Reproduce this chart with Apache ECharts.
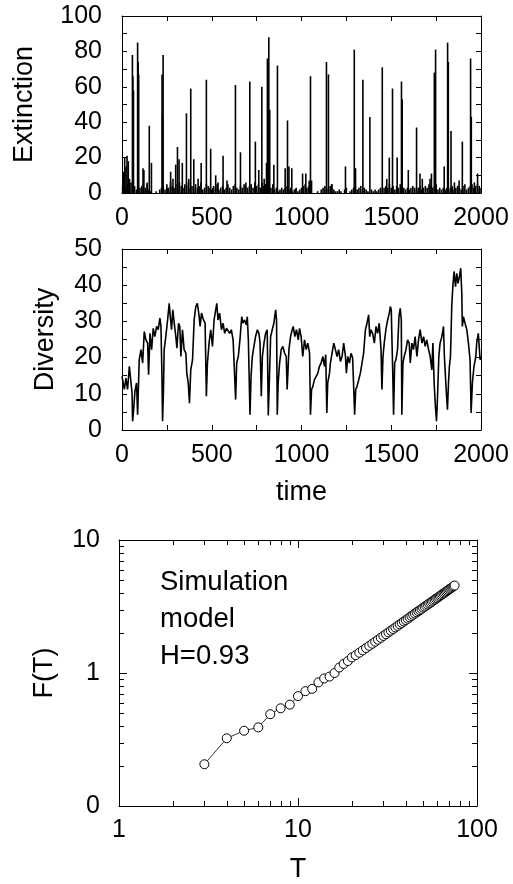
<!DOCTYPE html>
<html><head><meta charset="utf-8">
<script src="https://cdn.jsdelivr.net/npm/echarts@6/dist/echarts.min.js"></script>
<style>html,body{margin:0;padding:0;background:#fff}#c{width:513px;height:884px}</style>
</head><body><div id="c"></div>
<script>
// ---- Extinction: background level every 10 time steps ----
const extBaseline = [
4,6,3,5,2,6,3,4,2,5,3,4,2,3,5,2,1,0,0,1,
0,2,3,4,2,5,3,6,4,3,5,2,6,4,3,5,4,6,3,4,
2,5,3,4,6,2,3,5,4,3,2,4,3,5,2,3,4,2,3,5,
3,2,4,5,3,2,4,3,5,6,3,4,5,3,6,4,5,3,6,4,
5,6,4,3,5,2,3,1,2,3,2,3,4,2,3,1,2,3,1,2,
3,4,5,3,4,1,0,0,0,1,0,2,3,4,2,3,4,5,2,1,
1,2,1,0,2,3,0,1,2,3,4,2,3,4,2,3,2,1,0,2,
1,2,1,2,3,2,3,4,3,5,3,4,2,4,3,5,2,3,2,3,
2,3,4,3,2,3,4,2,3,4,3,5,4,3,4,5,2,3,2,3,
2,3,2,3,4,2,3,4,3,2,4,5,2,3,4,5,3,4,5,4,3];
const extBaseStep = 10;
// ---- Extinction events ----
const extEventT = [8,15,22,28,35,42,58,61,64,87,90,93,117,122,140,152,164,223,226,229,271,284,299,309,318,336,359,372,383,400,424,441,470,494,522,535,563,585,632,660,688,712,743,762,779,792,805,810,814,818,823,846,866,909,922,930,946,965,1006,1024,1043,1050,1056,1139,1150,1168,1245,1294,1301,1342,1381,1450,1475,1489,1507,1533,1557,1561,1595,1641,1660,1673,1716,1724,1740,1747,1795,1814,1818,1833,1852,1878,1896,1942,1946,1963,1981];
const extEventV = [12,20,15,21,18,8,78,66,58,85,74,67,14,13,6,38,17,67,44,78,12,8,16,26,19,17,45,8,59,19,8,17,64,25,10,6,21,7,61,23,4,63,29,13,60,8,17,76,36,88,47,16,72,14,41,15,14,2,11,11,7,66,7,74,67,5,15,81,14,64,43,71,8,20,59,20,63,53,13,37,11,8,8,11,68,81,15,85,74,35,6,7,29,76,43,6,11];

// ---- Diversity ----
const divT = [0,13,22,31,41,50,56,59,65,72,81,87,96,106,115,124,133,143,148,156,165,174,183,193,202,211,217,222,226,231,235,244,254,263,269,276,283,291,300,306,315,322,328,337,346,356,361,369,376,383,393,402,411,420,430,435,443,454,463,470,476,485,494,504,513,522,528,535,544,554,563,572,582,591,600,609,619,628,633,639,648,657,667,674,683,693,698,704,713,719,726,735,744,754,763,769,776,782,791,800,809,815,820,828,837,846,856,861,865,870,878,887,896,906,915,920,930,939,948,954,963,972,982,989,998,1007,1017,1026,1035,1045,1050,1056,1063,1072,1082,1091,1100,1109,1119,1128,1135,1141,1146,1156,1161,1170,1180,1189,1198,1207,1217,1226,1235,1245,1250,1258,1267,1276,1285,1291,1296,1302,1309,1319,1328,1337,1346,1356,1365,1374,1380,1387,1396,1406,1415,1424,1433,1443,1448,1454,1461,1470,1480,1489,1495,1500,1508,1513,1519,1526,1535,1543,1550,1556,1559,1565,1572,1582,1591,1600,1606,1615,1624,1633,1643,1652,1661,1671,1680,1689,1698,1708,1717,1726,1732,1739,1746,1752,1758,1765,1772,1782,1791,1796,1806,1813,1819,1824,1830,1837,1843,1850,1858,1865,1872,1880,1887,1893,1896,1902,1911,1921,1930,1939,1945,1952,1961,1971,1976,1985,1995,2000];
const divV = [14.8,11.2,14.3,11.2,17.6,18.0,10.2,2.4,5.6,10.7,13.0,4.2,19.4,22.2,18.5,27.2,24.9,24.0,15.3,26.7,22.2,28.1,25.8,28.6,27.7,30.9,28.6,16.6,2.4,11.2,22.2,25.8,30.4,35.0,31.3,27.7,33.2,29.5,25.8,22.6,29.5,28.6,20.3,27.7,22.2,21.2,15.7,13.0,7.4,16.6,19.4,30.4,34.1,35.0,31.3,28.6,32.3,30.4,29.5,9.3,18.5,24.0,27.7,23.1,30.4,33.2,35.0,30.4,32.3,27.7,29.5,26.7,28.1,27.7,26.7,27.7,24.9,24.4,8.4,18.5,20.3,24.9,31.3,29.5,30.4,29.0,31.3,24.9,4.2,14.8,20.3,23.1,25.8,27.7,26.7,24.0,9.3,20.3,24.0,26.7,27.7,4.0,12.0,25.8,27.7,29.5,33.2,30.4,4.2,13.0,18.5,22.2,23.1,21.2,20.3,11.2,22.2,25.8,27.7,28.6,25.8,27.7,24.9,28.1,25.8,20.3,24.9,22.2,24.0,21.2,4.2,11.2,12.0,13.9,14.8,15.7,17.6,18.5,20.3,17.6,20.8,4.7,13.0,15.7,18.5,21.2,24.0,22.2,20.3,22.2,18.9,20.3,24.0,20.3,15.7,20.3,18.5,21.2,19.9,20.3,4.2,11.2,12.0,13.9,15.7,18.5,21.2,27.7,29.5,31.8,25.8,27.7,26.7,24.0,28.6,26.7,29.5,22.2,11.2,20.3,24.0,27.7,30.4,32.3,34.1,33.2,16.6,4.2,18.5,19.4,22.2,31.3,33.6,30.4,4.2,18.5,20.3,22.2,24.9,24.0,18.5,24.0,22.2,25.8,20.3,24.9,27.7,24.0,25.8,23.1,24.9,22.2,20.3,16.6,24.0,13.0,6.5,2.4,9.3,20.3,24.0,25.8,28.6,20.3,11.2,5.6,13.0,17.6,20.3,34.1,39.6,43.8,39.6,43.3,40.5,42.4,44.7,37.8,28.6,31.3,29.5,27.7,24.0,19.4,4.7,13.0,17.6,20.3,24.0,26.7,19.4,20.3];

// ---- Fluctuation F(T) ----
const fT = [3,4,5,6,7,8,9,10,11,12,13,14,15,16,17,18,19,20,21,22,23,24,25,26,27,28,29,30,31,32,33,34,35,36,37,38,39,40,41,42,43,44,45,46,47,48,49,50,51,52,53,54,55,56,57,58,59,60,61,62,63,64,65,66,67,68,69,70,71,72,73,74,75];
const fV = [0.206,0.323,0.368,0.39,0.49,0.543,0.578,0.67,0.73,0.76,0.85,0.91,0.94,1.0,1.1,1.17,1.23,1.31,1.36,1.42,1.48,1.54,1.60,1.66,1.72,1.78,1.84,1.90,1.96,2.02,2.08,2.14,2.20,2.26,2.32,2.38,2.44,2.50,2.56,2.62,2.68,2.74,2.80,2.86,2.92,2.97,3.03,3.10,3.15,3.21,3.27,3.33,3.38,3.44,3.50,3.56,3.62,3.67,3.73,3.79,3.85,3.91,3.97,4.02,4.08,4.14,4.20,4.26,4.31,4.37,4.43,4.49,4.55];

const FONT = 'Liberation Sans, Arial, Helvetica, sans-serif';

// build series data from arrays
const extPts = extBaseline.map((v, i) => [i * extBaseStep, v]);
extEventT.forEach((t, i) => extPts.push([t, extEventV[i]]));
extPts.sort((a, b) => a[0] - b[0]);
const divPts = divT.map((t, i) => [t, divV[i]]);
const fPts = fT.map((t, i) => [t, fV[i]]);

const axisLine = { show: true, onZero: false, lineStyle: { color: '#000', width: 1 } };
const lbl = { color: '#000', fontSize: 25, fontFamily: FONT };
const nameStyle = { color: '#000', fontSize: 27, fontFamily: FONT };
const plain = v => String(v);

function linAxis(grid, pos, min, max, interval, showLabel, extra) {
  return Object.assign({
    type: 'value', gridIndex: grid, position: pos, min, max, interval,
    axisLine, splitLine: { show: false },
    axisTick: { show: true, inside: true, length: 5, lineStyle: { color: '#000' } },
    minorTick: { show: true, splitNumber: 2, length: 5, lineStyle: { color: '#000' } },
    axisLabel: Object.assign({ show: showLabel, formatter: plain }, lbl)
  }, extra || {});
}
function logAxis(grid, pos, min, max, showLabel, extra) {
  return Object.assign({
    type: 'log', logBase: 10, gridIndex: grid, position: pos, min, max,
    axisLine, splitLine: { show: false },
    axisTick: { show: true, inside: true, length: 8, lineStyle: { color: '#000' } },
    axisLabel: Object.assign({ show: showLabel }, lbl)
  }, extra || {});
}

const chart = echarts.init(document.getElementById('c'), null, { renderer: 'canvas' });
chart.setOption({
  animation: false,
  backgroundColor: '#fff',
  grid: [
    { left: 122, top: 16, width: 359, height: 177 },
    { left: 122, top: 249, width: 359, height: 181 },
    { left: 119, top: 540, width: 358, height: 269 }
  ],
  xAxis: [
    linAxis(0, 'bottom', 0, 2000, 500, true, { axisLabel: Object.assign({ margin: 13, formatter: plain }, lbl) }),
    linAxis(0, 'top', 0, 2000, 500, false),
    linAxis(1, 'bottom', 0, 2000, 500, true, { axisLabel: Object.assign({ margin: 13, formatter: plain }, lbl),
      name: 'time', nameLocation: 'middle', nameGap: 49, nameTextStyle: nameStyle }),
    linAxis(1, 'top', 0, 2000, 500, false),
    logAxis(2, 'bottom', 1, 100, true, { axisLabel: Object.assign({ margin: 12 }, lbl),
      name: 'T', nameLocation: 'middle', nameGap: 50, nameTextStyle: nameStyle }),
    logAxis(2, 'top', 1, 100, false)
  ],
  yAxis: [
    linAxis(0, 'left', 0, 100, 20, true, { axisLabel: Object.assign({ margin: 20, formatter: plain }, lbl),
      name: 'Extinction', nameLocation: 'middle', nameRotate: 90, nameGap: 84, nameTextStyle: nameStyle }),
    linAxis(0, 'right', 0, 100, 20, false),
    linAxis(1, 'left', 0, 50, 10, true, { axisLabel: Object.assign({ margin: 20, formatter: plain }, lbl),
      name: 'Diversity', nameLocation: 'middle', nameRotate: 90, nameGap: 63, nameTextStyle: nameStyle }),
    linAxis(1, 'right', 0, 50, 10, false),
    logAxis(2, 'left', 0.1, 10, true, { axisLabel: Object.assign({ margin: 19,
        formatter: v => (v < 0.5 ? '0' : String(Math.round(v))) }, lbl),
      name: 'F(T)', nameLocation: 'middle', nameRotate: 90, nameGap: 61, nameTextStyle: nameStyle }),
    logAxis(2, 'right', 0.1, 10, false)
  ],
  series: [
    { type: 'bar', xAxisIndex: 0, yAxisIndex: 0, data: extPts, barWidth: 1.6,
      itemStyle: { color: '#000' }, silent: true, large: false },
    { type: 'line', xAxisIndex: 2, yAxisIndex: 2, data: divPts, showSymbol: false, symbol: 'none',
      lineStyle: { color: '#000', width: 1.6 }, silent: true },
    { type: 'line', xAxisIndex: 4, yAxisIndex: 4, data: fPts, symbol: 'circle', symbolSize: 9,
      itemStyle: { color: '#fff', borderColor: '#000', borderWidth: 1 },
      lineStyle: { color: '#000', width: 0.8 }, silent: true, z: 3 }
  ]
});

// log-scale minor ticks (2..9 per decade), positioned through the chart's own axes
const g = [];
const tickStyle = { stroke: '#000', lineWidth: 1 };
const yTop = chart.convertToPixel({ yAxisIndex: 4 }, 10);
const yBot = chart.convertToPixel({ yAxisIndex: 4 }, 0.1);
const xL = chart.convertToPixel({ xAxisIndex: 4 }, 1);
const xR = chart.convertToPixel({ xAxisIndex: 4 }, 100);
[1, 10].forEach(d => {
  for (let k = 2; k <= 9; k++) {
    const x = Math.round(chart.convertToPixel({ xAxisIndex: 4 }, d * k)) + 0.5;
    g.push({ type: 'line', shape: { x1: x, y1: yBot, x2: x, y2: yBot - 5 }, style: tickStyle });
    g.push({ type: 'line', shape: { x1: x, y1: yTop, x2: x, y2: yTop + 5 }, style: tickStyle });
  }
});
[0.1, 1].forEach(d => {
  for (let k = 2; k <= 9; k++) {
    const y = Math.round(chart.convertToPixel({ yAxisIndex: 4 }, d * k)) + 0.5;
    g.push({ type: 'line', shape: { x1: xL, y1: y, x2: xL + 5, y2: y }, style: tickStyle });
    g.push({ type: 'line', shape: { x1: xR, y1: y, x2: xR - 5, y2: y }, style: tickStyle });
  }
});
g.push({ type: 'text', left: 160, top: 564,
  style: { text: 'Simulation\nmodel\nH=0.93', fill: '#000', font: '27.5px ' + FONT, lineHeight: 37 } });
chart.setOption({ graphic: g });
</script></body></html>
